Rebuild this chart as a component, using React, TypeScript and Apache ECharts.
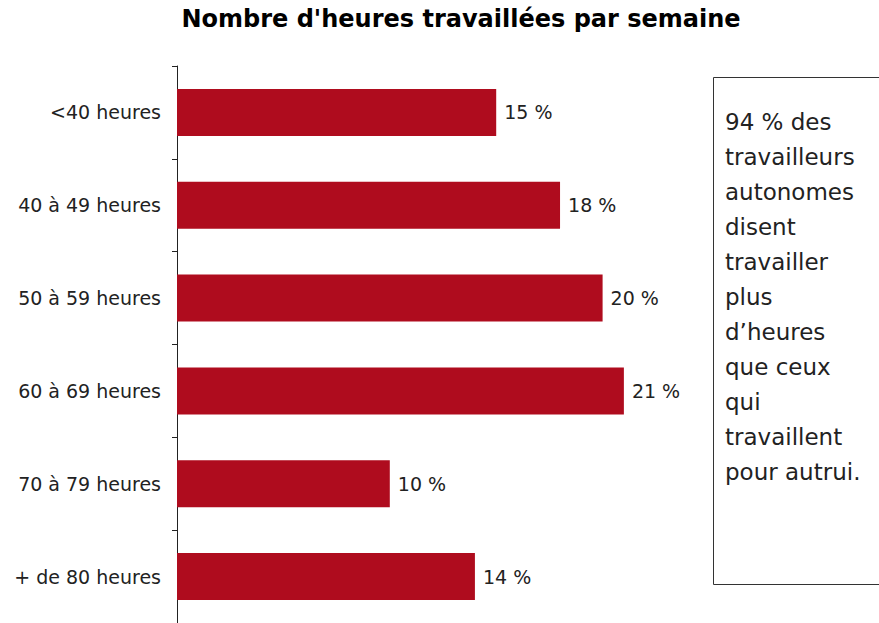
import React, { useEffect, useRef } from "react";
import * as echarts from "echarts";

const titleText = "Nombre d'heures travaillées par semaine";
const categories = [
  "<40 heures",
  "40 à 49 heures",
  "50 à 59 heures",
  "60 à 69 heures",
  "70 à 79 heures",
  "+ de 80 heures",
];
const values = [15, 18, 20, 21, 10, 14];
const noteLines = [
  "94 % des",
  "travailleurs",
  "autonomes",
  "disent",
  "travailler",
  "plus",
  "d’heures",
  "que ceux",
  "qui",
  "travaillent",
  "pour autrui.",
];

export default function App() {
  const ref = useRef<HTMLDivElement>(null);
  useEffect(() => {
    if (!ref.current) return;
    const chart = echarts.init(ref.current, null, { renderer: "svg" });
    chart.setOption({
      animation: false,
      backgroundColor: "#ffffff",
      grid: { left: 177, top: 66, width: 532, height: 559, containLabel: false },
      xAxis: {
        type: "value",
        min: 0,
        max: 25,
        show: false,
      },
      yAxis: {
        type: "category",
        data: categories,
        inverse: true,
        axisLine: { show: true, lineStyle: { color: "#222222", width: 1 } },
        axisTick: { show: true, length: 5, lineStyle: { color: "#222222" } },
        axisLabel: {
          margin: 16,
          color: "#222222",
          fontFamily: "DejaVu Sans",
          fontSize: 19,
        },
        splitLine: { show: false },
      },
      series: [
        {
          type: "bar",
          data: values,
          barWidth: 47,
          itemStyle: { color: "#AF0C1E" },
          label: {
            show: true,
            position: "right",
            distance: 8,
            formatter: "{c} %",
            color: "#222222",
            fontFamily: "DejaVu Sans",
            fontSize: 19,
          },
        },
      ],
      graphic: [
        {
          type: "text",
          x: 461,
          y: 19,
          style: {
            text: titleText,
            fontFamily: "DejaVu Sans",
            fontWeight: "bold",
            fontSize: 24,
            fill: "#000000",
            textAlign: "center",
            textVerticalAlign: "middle",
          },
        },
        {
          type: "rect",
          shape: { x: 713.5, y: 77.5, width: 200, height: 507 },
          style: { fill: "#ffffff", stroke: "#333333", lineWidth: 1 },
        },
        {
          type: "text",
          x: 725,
          y: 104.5,
          style: {
            text: noteLines.join("\n"),
            fontFamily: "DejaVu Sans",
            fontSize: 23,
            lineHeight: 35,
            fill: "#222222",
            textAlign: "left",
            textVerticalAlign: "top",
          },
        },
      ],
    });
    return () => chart.dispose();
  }, []);
  return (
    <div
      ref={ref}
      style={{ position: "fixed", left: 0, top: 0, width: 879, height: 623 }}
    />
  );
}
